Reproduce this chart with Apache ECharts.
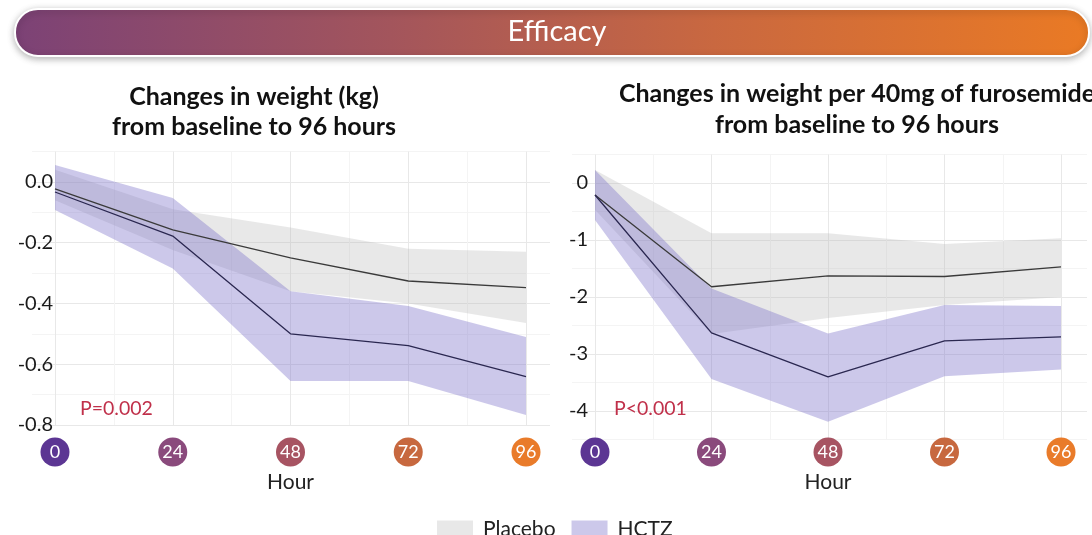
<!DOCTYPE html>
<html>
<head>
<meta charset="utf-8">
<script src="https://cdn.jsdelivr.net/npm/echarts@6/dist/echarts.min.js"></script>
<style>
  html, body { margin: 0; padding: 0; background: #ffffff; }
  #chart { width: 1092px; height: 535px; }
</style>
</head>
<body>
<div id="chart"></div>
<script>
// ---------------- data ----------------
const hours = [0, 24, 48, 72, 96];
const hourTickLabels = ['0', '24', '48', '72', '96'];
const hourColors = ['#5c3693', '#8a4a7c', '#a75462', '#c7683f', '#e97b2a'];

// Left panel: change in weight (kg)
const kgPlaceboMean  = [-0.023, -0.158, -0.250, -0.326, -0.348];
const kgPlaceboLower = [-0.060, -0.224, -0.360, -0.400, -0.464];
const kgPlaceboUpper = [ 0.040, -0.090, -0.150, -0.220, -0.230];
const kgHctzMean     = [-0.033, -0.178, -0.500, -0.539, -0.641];
const kgHctzLower    = [-0.092, -0.285, -0.655, -0.655, -0.767];
const kgHctzUpper    = [ 0.056, -0.053, -0.360, -0.408, -0.510];

// Right panel: change in weight per 40 mg of furosemide
const fuPlaceboMean  = [-0.21, -1.82, -1.63, -1.64, -1.47];
const fuPlaceboLower = [-0.47, -2.65, -2.37, -2.14, -2.00];
const fuPlaceboUpper = [ 0.23, -0.88, -0.88, -1.07, -0.97];
const fuHctzMean     = [-0.21, -2.63, -3.40, -2.77, -2.70];
const fuHctzLower    = [-0.65, -3.44, -4.19, -3.39, -3.27];
const fuHctzUpper    = [ 0.23, -1.85, -2.64, -2.14, -2.16];

const leftTitle  = ['Changes in weight (kg)', 'from baseline to 96 hours'];
const rightTitle = ['Changes in weight per 40mg of furosemide', 'from baseline to 96 hours'];
const pLeft = 'P=0.002';
const pRight = 'P<0.001';
const legendNames = ['Placebo', 'HCTZ'];

// ---------------- styling ----------------
const FONT = 'Lato, "Open Sans", sans-serif';
const GRAY_FILL = 'rgba(180,180,180,0.30)';
const PURPLE_FILL = 'rgba(120,110,200,0.38)';
const MAJOR = '#e8e8e8';
const MINOR = '#f4f4f4';

const rich = {};
hours.forEach((h, i) => {
  rich['c' + h] = {
    backgroundColor: hourColors[i],
    borderRadius: 15,
    width: 29, height: 29, lineHeight: 29,
    align: 'center',
    color: '#ffffff',
    fontSize: 18,
    fontFamily: FONT
  };
});
function hourLabel(v) {
  const i = hours.indexOf(v);
  return i >= 0 ? '{c' + v + '|' + hourTickLabels[i] + '}' : '';
}

function bandSeries(name, xi, yi, lower, upper, fill) {
  return {
    name: name,
    type: 'custom',
    xAxisIndex: xi, yAxisIndex: yi,
    silent: true,
    z: 2,
    itemStyle: { color: fill },
    encode: { x: 0, y: [1, 2] },
    data: hours.map((h, i) => [h, lower[i], upper[i]]),
    renderItem: function (params, api) {
      if (params.dataIndex !== 0) return;
      const pts = [];
      for (let i = 0; i < hours.length; i++) pts.push(api.coord([hours[i], upper[i]]));
      for (let i = hours.length - 1; i >= 0; i--) pts.push(api.coord([hours[i], lower[i]]));
      return { type: 'polygon', shape: { points: pts }, style: { fill: fill } };
    }
  };
}
function lineSeries(name, xi, yi, mean, color) {
  return {
    name: name,
    type: 'line',
    xAxisIndex: xi, yAxisIndex: yi,
    silent: true,
    z: 4,
    symbol: 'none',
    lineStyle: { color: color, width: 1.3 },
    data: hours.map((h, i) => [h, mean[i]])
  };
}

const chart = echarts.init(document.getElementById('chart'), null, { renderer: 'canvas' });

const titleStyle = { fill: '#111', fontSize: 25, fontWeight: 'bold', fontFamily: FONT, align: 'center', verticalAlign: 'middle' };

const option = {
  animation: false,
  backgroundColor: '#ffffff',
  textStyle: { fontFamily: FONT },
  grid: [
    { left: 55,  top: 151.6, width: 471, height: 273.4, outerBoundsMode: 'none' },   // 0 left main
    { left: 32,  top: 151.6, width: 518, height: 273.4, outerBoundsMode: 'none' },   // 1 left background
    { left: 595, top: 154.5, width: 466, height: 285,   outerBoundsMode: 'none' },   // 2 right main
    { left: 572, top: 154.5, width: 515, height: 285,   outerBoundsMode: 'none' }    // 3 right background
  ],
  xAxis: [
    {
      gridIndex: 0, type: 'value', min: 0, max: 96, interval: 12,
      axisLine: { show: false }, axisTick: { show: false },
      splitLine: { show: true, lineStyle: { color: [MAJOR, MINOR], width: 1 } },
      axisLabel: { formatter: hourLabel, rich: rich, margin: 12.5 },
      name: 'Hour', nameLocation: 'middle', nameGap: 46,
      nameTextStyle: { fontSize: 21, color: '#222', fontFamily: FONT }
    },
    { gridIndex: 1, type: 'value', min: 0, max: 1, show: false },
    {
      gridIndex: 2, type: 'value', min: 0, max: 96, interval: 12,
      axisLine: { show: false }, axisTick: { show: false },
      splitLine: { show: true, lineStyle: { color: [MAJOR, MINOR], width: 1 } },
      axisLabel: { formatter: hourLabel, rich: rich, margin: -2 },
      name: 'Hour', nameLocation: 'middle', nameGap: 32,
      nameTextStyle: { fontSize: 21, color: '#222', fontFamily: FONT }
    },
    { gridIndex: 3, type: 'value', min: 0, max: 1, show: false }
  ],
  yAxis: [
    {
      gridIndex: 0, type: 'value', min: -0.8, max: 0.1, interval: 0.1,
      axisLine: { show: false }, axisTick: { show: false },
      splitLine: { show: false },
      axisLabel: {
        margin: 2, fontSize: 20, color: '#1a1a1a', fontFamily: FONT,
        formatter: v => (Math.round(v * 10) % 2 === 0 ? v.toFixed(1) : '')
      }
    },
    {
      gridIndex: 1, type: 'value', min: -0.8, max: 0.1, interval: 0.1,
      axisLine: { show: false }, axisTick: { show: false }, axisLabel: { show: false },
      splitLine: { show: true, lineStyle: { color: [MAJOR, MINOR], width: 1 } }
    },
    {
      gridIndex: 2, type: 'value', min: -4.5, max: 0.5, interval: 0.5,
      axisLine: { show: false }, axisTick: { show: false },
      splitLine: { show: false },
      axisLabel: {
        margin: 7, fontSize: 20, color: '#1a1a1a', fontFamily: FONT,
        formatter: v => (Number.isInteger(v) ? String(v) : '')
      }
    },
    {
      gridIndex: 3, type: 'value', min: -4.5, max: 0.5, interval: 0.5,
      axisLine: { show: false }, axisTick: { show: false }, axisLabel: { show: false },
      splitLine: { show: true, lineStyle: { color: [MINOR, MAJOR], width: 1 } }
    }
  ],
  legend: {
    data: legendNames.map(n => ({ name: n, icon: 'rect' })),
    left: 437, top: 519, padding: 0,
    itemWidth: 36, itemHeight: 18, itemGap: 16,
    selectedMode: false,
    textStyle: { fontSize: 21, color: '#222', fontFamily: FONT, padding: [0, 0, 0, 5] }
  },
  series: [
    bandSeries('Placebo', 0, 0, kgPlaceboLower, kgPlaceboUpper, GRAY_FILL),
    bandSeries('HCTZ', 0, 0, kgHctzLower, kgHctzUpper, PURPLE_FILL),
    lineSeries('Placebo mean', 0, 0, kgPlaceboMean, '#3a3a3a'),
    lineSeries('HCTZ mean', 0, 0, kgHctzMean, '#2a2750'),
    bandSeries('Placebo', 2, 2, fuPlaceboLower, fuPlaceboUpper, GRAY_FILL),
    bandSeries('HCTZ', 2, 2, fuHctzLower, fuHctzUpper, PURPLE_FILL),
    lineSeries('Placebo mean', 2, 2, fuPlaceboMean, '#3a3a3a'),
    lineSeries('HCTZ mean', 2, 2, fuHctzMean, '#2a2750')
  ],
  graphic: [
    {
      type: 'rect', z: 10,
      shape: { x: 15, y: 9, width: 1074, height: 47, r: 23 },
      style: {
        fill: new echarts.graphic.LinearGradient(0, 0, 1, 0, [
          { offset: 0, color: '#7c4276' },
          { offset: 0.35, color: '#a3555c' },
          { offset: 0.65, color: '#c96840' },
          { offset: 1, color: '#ea7a24' }
        ]),
        stroke: '#ffffff', lineWidth: 2,
        shadowBlur: 7, shadowColor: 'rgba(0,0,0,0.28)', shadowOffsetY: 2
      }
    },
    {
      type: 'text', z: 11, x: 557, y: 32,
      style: {
        text: 'Efficacy', fill: '#ffffff', fontSize: 29, fontFamily: FONT,
        align: 'center', verticalAlign: 'middle'
      }
    },
    { type: 'text', z: 11, x: 254, y: 97,  style: Object.assign({ text: leftTitle[0] }, titleStyle) },
    { type: 'text', z: 11, x: 254, y: 127, style: Object.assign({ text: leftTitle[1] }, titleStyle) },
    { type: 'text', z: 11, x: 857, y: 94,  style: Object.assign({ text: rightTitle[0] }, titleStyle) },
    { type: 'text', z: 11, x: 857, y: 125, style: Object.assign({ text: rightTitle[1] }, titleStyle) },
    {
      type: 'text', z: 11, x: 80, y: 409,
      style: { text: pLeft, fill: '#c0304a', fontSize: 19.5, fontFamily: FONT, align: 'left', verticalAlign: 'middle' }
    },
    {
      type: 'text', z: 11, x: 614, y: 409,
      style: { text: pRight, fill: '#c0304a', fontSize: 19.5, fontFamily: FONT, align: 'left', verticalAlign: 'middle' }
    }
  ]
};
chart.setOption(option);
</script>
</body>
</html>
